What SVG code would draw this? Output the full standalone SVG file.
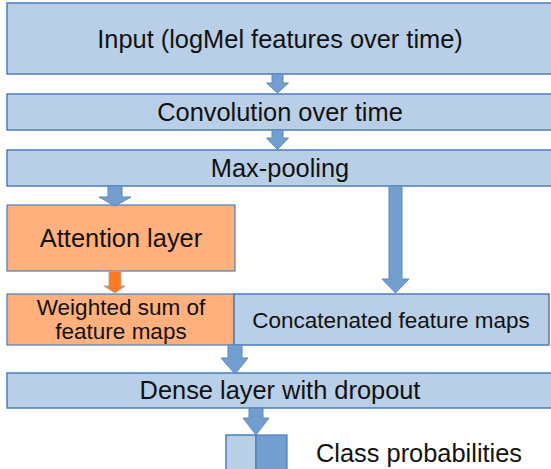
<svg xmlns="http://www.w3.org/2000/svg" width="551" height="469" viewBox="0 0 551 469">
<style>
.b{fill:#b9cfe7;stroke:#4a7ebb;stroke-width:1.5}
.o{fill:#ffb07c;stroke:#4a7ebb;stroke-width:1.2}
.d{fill:#729fcf;stroke:#4a7ebb;stroke-width:1.2}
.a{fill:#729fcf;stroke:#5b89c0;stroke-width:1}
.oa{fill:#f97a22;stroke:#b0a8a0;stroke-width:1}
text{font-family:"Liberation Sans",Arial,sans-serif;fill:#111;text-anchor:middle}
.t25{font-size:25.4px}
.t22{font-size:22.5px}
</style>
<rect width="551" height="469" fill="#fff"/>
<g id="input"><rect class="b" x="7" y="3" width="548" height="71"/><text class="t25" x="280" y="48">Input (logMel features over time)</text></g>
<g id="conv"><rect class="b" x="7" y="94" width="548" height="36"/><text class="t25" x="280" y="121">Convolution over time</text></g>
<g id="maxpool"><rect class="b" x="7" y="150" width="548" height="36"/><text class="t25" x="280" y="177">Max-pooling</text></g>
<g id="attention"><rect class="o" x="7" y="205" width="228" height="66"/><text class="t25" x="121" y="247">Attention layer</text></g>
<g id="weighted"><rect class="o" x="7" y="294" width="227" height="51"/><text class="t22" x="121" y="315">Weighted sum of</text><text class="t22" x="121" y="339">feature maps</text></g>
<g id="concat"><rect class="b" x="234" y="294" width="315" height="51"/><text class="t22" x="391" y="328">Concatenated feature maps</text></g>
<g id="dense"><rect class="b" x="7" y="373" width="548" height="35"/><text class="t25" x="280" y="399">Dense layer with dropout</text></g>
<g id="classprob"><rect class="b" x="226" y="435" width="30" height="40"/><rect class="d" x="256" y="435" width="31" height="40"/><text class="t25" x="316" y="462" style="text-anchor:start">Class probabilities</text></g>
<g id="connectors">
<polygon class="a" points="272,74 283,74 283,83 288.5,83 277.5,93 266.5,83 272,83"/>
<polygon class="a" points="272,130 283,130 283,138 288.5,138 277.5,149.5 266.5,138 272,138"/>
<polygon class="a" points="108,186 122,186 122,197 131,197 115,206 99,197 108,197"/>
<polygon class="oa" points="109,271 121,271 121,286 125,286 115,293 104,286 109,286"/>
<polygon class="a" points="389,186 402,186 402,279 409,279 395.5,293 382,279 389,279"/>
<polygon class="a" points="228,345 242,345 242,358 248,358 235,374 221,358 228,358"/>
<polygon class="a" points="249,408 263,408 263,418 269,418 256,435 243,418 249,418"/>
</g>
</svg>
